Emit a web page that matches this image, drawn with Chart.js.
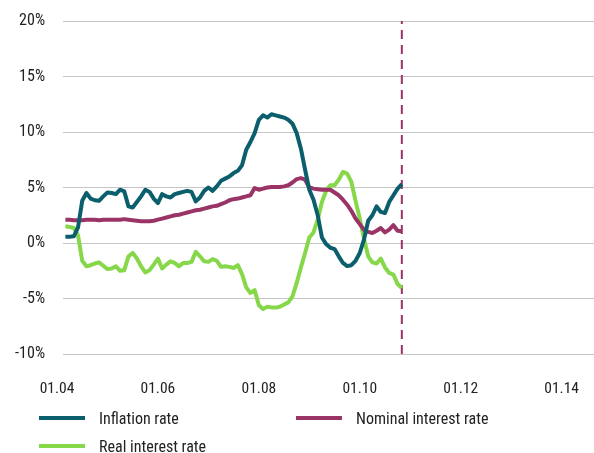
<!DOCTYPE html>
<html><head><meta charset="utf-8">
<script src="https://cdn.jsdelivr.net/npm/chart.js@4.4.0/dist/chart.umd.min.js"></script>
<style>
html,body{margin:0;padding:0;background:#fff;}
#wrap{position:relative;width:594px;height:453px;}
#legend{position:absolute;left:0;top:0;width:594px;height:453px;pointer-events:none;
  font-family:'Roboto Condensed','DejaVu Sans Condensed',sans-serif;font-size:16px;color:#222;}
.item{position:absolute;display:flex;align-items:center;height:20px;white-space:nowrap;}
.sw{width:46px;height:4px;margin-right:14px;}
</style></head>
<body><div id="wrap"><canvas id="c" width="594" height="453"></canvas><div id="legend"></div></div>
<script>
// Monthly observations, March 2004 to November 2010 (months counted from January 2004)
const firstMonth = 2;
const inflation = [0.56,0.56,0.6,1.4,3.8,4.5,4.0,3.85,3.8,4.2,4.55,4.5,
  4.4,4.8,4.65,3.3,3.2,3.7,4.2,4.8,4.6,4.0,3.6,4.4,
  4.2,4.1,4.4,4.5,4.6,4.7,4.6,3.75,4.1,4.7,5.0,4.7,
  5.1,5.6,5.8,6.0,6.3,6.5,7.0,8.4,9.1,9.9,11.1,11.5,
  11.3,11.6,11.5,11.4,11.3,11.1,10.75,9.9,8.5,6.6,4.8,3.9,
  2.5,0.5,-0.1,-0.43,-0.55,-1.2,-1.8,-2.08,-2.0,-1.6,-0.9,0.3,
  2.0,2.5,3.3,2.8,2.7,3.7,4.3,4.9,5.3];
const nominal = [2.1,2.1,2.05,2.05,2.05,2.1,2.1,2.1,2.05,2.1,2.1,2.1,
  2.1,2.1,2.15,2.1,2.05,2.0,1.95,1.95,1.95,2.0,2.1,2.2,
  2.3,2.4,2.5,2.55,2.65,2.75,2.85,2.95,3.0,3.1,3.2,3.3,
  3.35,3.5,3.65,3.85,3.95,4.0,4.1,4.2,4.3,4.95,4.8,4.9,
  5.0,5.05,5.05,5.05,5.1,5.2,5.45,5.75,5.85,5.7,5.0,4.9,
  4.85,4.8,4.8,4.8,4.55,4.3,3.9,3.45,2.9,2.2,1.7,1.2,
  1.0,0.9,1.1,1.35,0.95,1.2,1.6,1.1,1.05];
const real = [1.5,1.45,1.35,0.7,-1.6,-2.1,-2.0,-1.85,-1.75,-2.05,-2.35,-2.3,
  -2.1,-2.5,-2.45,-1.2,-0.9,-1.4,-2.1,-2.65,-2.45,-1.95,-1.4,-2.3,
  -1.95,-1.65,-1.8,-2.1,-1.8,-1.8,-1.7,-0.8,-1.2,-1.65,-1.7,-1.45,
  -1.6,-2.15,-2.1,-2.15,-2.25,-2.0,-2.8,-4.0,-4.5,-4.25,-5.6,-5.95,
  -5.75,-5.8,-5.82,-5.75,-5.55,-5.35,-4.8,-3.6,-2.2,-0.9,0.5,0.95,
  2.1,3.7,4.7,5.2,5.2,5.7,6.4,6.25,5.5,3.8,2.2,0.4,
  -1.2,-1.75,-1.85,-1.4,-2.2,-2.7,-2.85,-3.7,-4.05];
const xTickLabels = ['01.04','01.06','01.08','01.10','01.12','01.14'];
const yTicks = [-10,-5,0,5,10,15,20];
const seriesNames = ['Inflation rate','Nominal interest rate','Real interest rate'];
const seriesColors = ['#0b5e6c','#9a3366','#86d84a'];
const cutoffMonth = 82;   // dashed marker: November 2010

const months = inflation.map((_, i) => firstMonth + i);
const pts = arr => arr.map((v, i) => ({x: months[i], y: v}));
const FONT = "'Roboto Condensed','DejaVu Sans Condensed',sans-serif";
Chart.defaults.font.family = FONT;
Chart.defaults.color = '#222';

const datasets = [inflation, nominal, real].map((arr, k) => ({
  label: seriesNames[k], data: pts(arr), borderColor: seriesColors[k], backgroundColor: seriesColors[k],
  borderWidth: 4, pointRadius: 0, tension: 0, borderJoinStyle: 'round', borderCapStyle: 'butt'
}));
datasets.push({label: 'cutoff', data: [{x: cutoffMonth, y: yTicks[0]}, {x: cutoffMonth, y: yTicks[yTicks.length-1]}],
  borderColor: '#9a3366', borderWidth: 2, borderDash: [9, 6], pointRadius: 0});

const chart = new Chart(document.getElementById('c'), {
  type: 'line',
  data: {datasets},
  options: {
    responsive: false, animation: false,
    layout: {padding: {top: 21, bottom: 59, left: 0, right: 0}},
    plugins: {legend: {display: false}, tooltip: {enabled: false}},
    scales: {
      x: {type: 'linear', min: 1.43, max: 127.7,
        afterBuildTicks: s => { s.ticks = xTickLabels.map((_, i) => ({value: i * 24})); },
        afterFit: s => { s.height = 40; s.paddingLeft = 0; s.paddingRight = 0; },
        grid: {display: false, drawTicks: false}, border: {display: false},
        ticks: {align: 'center', padding: 26, font: {size: 15.5}, color: '#222', maxRotation: 0, autoSkip: false,
          callback: v => xTickLabels[Math.round(v / 24)]}},
      y: {min: -10, max: 20,
        afterBuildTicks: s => { s.ticks = yTicks.map(v => ({value: v})); },
        afterFit: s => { s.width = 63; s.paddingTop = 0; s.paddingBottom = 0; },
        grid: {color: '#c6c6c6', lineWidth: 1, drawTicks: false}, border: {display: false},
        ticks: {padding: 18, font: {size: 16}, color: '#222', callback: v => v + '%'}}
    }
  }
});

const legendPos = [[39, 408], [296, 408], [39, 436]];
const lg = document.getElementById('legend');
seriesNames.forEach((n, k) => {
  const d = document.createElement('div');
  d.className = 'item';
  d.style.left = legendPos[k][0] + 'px'; d.style.top = legendPos[k][1] + 'px';
  d.innerHTML = '<span class="sw" style="background:' + seriesColors[k] + '"></span><span>' + n + '</span>';
  lg.appendChild(d);
});
</script>
</body></html>
